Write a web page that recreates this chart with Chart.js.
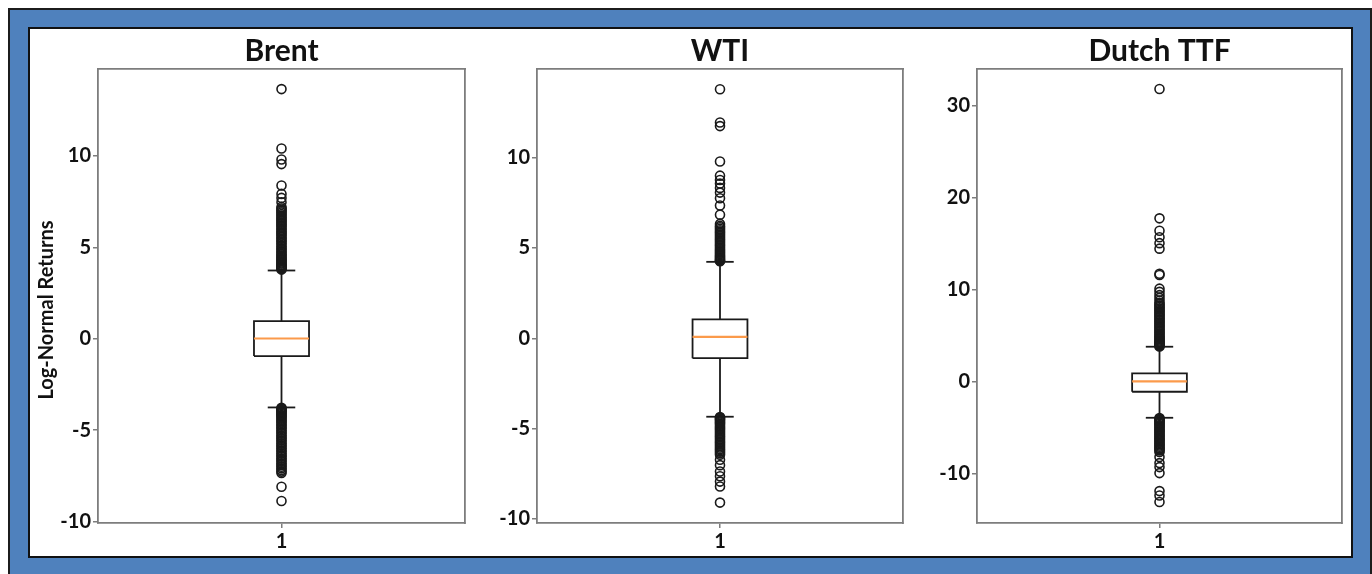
<!DOCTYPE html>
<html>
<head>
	<meta charset="utf-8">
	<title>Log-Normal Returns</title>
	<style>
		body { margin: 0; background: #fff; width: 1372px; height: 574px; overflow: hidden; position: relative; }
		.frame { position: absolute; left: 8px; top: 8px; width: 1364px; height: 600px; box-sizing: border-box; background: #4f81bd; border: 2px solid #1c1c1c; }
		.inner { position: absolute; left: 28px; top: 27px; width: 1325px; height: 531px; box-sizing: border-box; background: #fff; border: 2px solid #111; }
		canvas { position: absolute; top: 29px; }
	</style>
</head>
<body>
	<div class="frame"></div>
	<div class="inner"></div>
	<canvas id="brentChart" width="450" height="528" style="left:30px"></canvas>
	<canvas id="wtiChart" width="440" height="528" style="left:480px"></canvas>
	<canvas id="ttfChart" width="430" height="528" style="left:920px"></canvas>

	<script src="https://cdn.jsdelivr.net/npm/chart.js@4.4.0/dist/chart.umd.min.js"></script>
	<script type="text/javascript">
		const titles = ['Brent', 'WTI', 'Dutch TTF'];
		const yAxisLabel = 'Log-Normal Returns';
		const xTicks = [1];

		// [lower whisker, Q1, median, Q3, upper whisker]
		const brentStats = [-3.76, -0.95, 0.01, 0.96, 3.73];
		const wtiStats = [-4.34, -1.1, 0.08, 1.05, 4.23];
		const ttfStats = [-3.95, -1.12, 0.0, 0.88, 3.78];

		const brentOutliers = [
			13.65, 10.4, 9.8, 9.55, 8.38, 7.92, 7.7, 7.46,
			7.2, 7.12, 7.05, 6.97, 6.9, 6.82, 6.74, 6.66, 6.58, 6.5, 6.43, 6.35, 6.27, 6.2, 6.12, 6.04,
			5.96, 5.88, 5.8, 5.72, 5.64, 5.55, 5.47, 5.38, 5.3, 5.22, 5.12, 5.03, 4.95, 4.86, 4.78, 4.7,
			4.62, 4.55, 4.48, 4.41, 4.35, 4.29, 4.23, 4.17, 4.11, 4.05, 4.0, 3.95, 3.9, 3.86, 3.82, 3.78,
			-3.78, -3.82, -3.86, -3.9, -3.95, -4.0, -4.05, -4.11, -4.17, -4.23, -4.3, -4.37, -4.44, -4.52,
			-4.6, -4.68, -4.76, -4.84, -4.93, -5.02, -5.1, -5.2, -5.3, -5.38, -5.47, -5.56, -5.65, -5.74,
			-5.83, -5.92, -6.01, -6.1, -6.19, -6.28, -6.37, -6.46, -6.55, -6.64, -6.73, -6.82, -6.91, -7.0,
			-7.09, -7.18, -7.27, -7.34, -8.1, -8.88
		];
		const wtiOutliers = [
			13.78, 11.94, 11.74, 9.78, 9.0, 8.76, 8.56, 8.32, 8.06, 7.75, 7.35, 6.84, 6.33,
			6.22, 6.14, 6.06, 5.98, 5.9, 5.82, 5.74, 5.66, 5.58, 5.5, 5.42, 5.34, 5.26, 5.18, 5.1, 5.02,
			4.94, 4.87, 4.8, 4.73, 4.66, 4.6, 4.54, 4.48, 4.43, 4.38, 4.33, 4.29, 4.26,
			-4.36, -4.4, -4.44, -4.49, -4.54, -4.6, -4.66, -4.72, -4.79, -4.86, -4.93, -5.0, -5.08, -5.16,
			-5.24, -5.32, -5.4, -5.48, -5.56, -5.64, -5.72, -5.8, -5.88, -5.96, -6.04, -6.12, -6.2, -6.28,
			-6.36, -6.44, -6.72, -7.02, -7.37, -7.63, -7.93, -8.2, -9.09
		];
		const ttfOutliers = [
			31.82, 17.75, 16.4, 15.7, 15.05, 14.45, 11.72, 11.58, 10.1, 9.75, 9.4, 9.1, 8.8,
			8.55, 8.4, 8.25, 8.1, 7.95, 7.8, 7.65, 7.5, 7.35, 7.2, 7.05, 6.9, 6.75, 6.6, 6.45, 6.3, 6.15,
			6.0, 5.85, 5.7, 5.55, 5.4, 5.25, 5.1, 4.96, 4.83, 4.7, 4.58, 4.46, 4.35, 4.24, 4.14, 4.04,
			3.95, 3.87, 3.8,
			-3.98, -4.06, -4.15, -4.25, -4.36, -4.48, -4.6, -4.73, -4.86, -5.0, -5.14, -5.28, -5.42, -5.56,
			-5.7, -5.84, -5.98, -6.12, -6.26, -6.4, -6.54, -6.68, -6.82, -6.96, -7.1, -7.24, -7.38, -7.5,
			-7.68, -8.23, -8.88, -9.32, -9.97, -11.93, -12.4, -13.12
		];

		const brentTicks = [-10, -5, 0, 5, 10];
		const wtiTicks = [-10, -5, 0, 5, 10];
		const ttfTicks = [-10, 0, 10, 20, 30];

		const brentRange = [-10.08, 14.75];
		const wtiRange = [-10.22, 14.9];
		const ttfRange = [-15.4, 34.0];

		const BOX_HALF = 0.075;
		const CAP_HALF = 0.0375;
		const spineColor = '#7d7d7d';
		const tickFont = { family: 'Lato', size: 20, weight: 'bold' };

		// rotated y label, sits a bit below the axes centre like the original
		const yLabelPlugin = {
			id: 'yLabel',
			afterDraw(chart, args, opts) {
				if (!opts.text) return;
				const { ctx, chartArea } = chart;
				ctx.save();
				ctx.translate(chartArea.left - 51, (chartArea.top + chartArea.bottom) / 2 + 14);
				ctx.rotate(-Math.PI / 2);
				ctx.font = 'bold 20px Lato';
				ctx.fillStyle = '#111';
				ctx.textAlign = 'center';
				ctx.textBaseline = 'middle';
				ctx.fillText(opts.text, 0, 0);
				ctx.restore();
			}
		};

		function lineSet(points, color, width) {
			return {
				data: points,
				showLine: true,
				borderColor: color,
				borderWidth: width,
				borderJoinStyle: 'miter',
				pointRadius: 0,
				fill: false,
				tension: 0
			};
		}

		function makeChart(id, title, stats, outliers, ticks, range, yWidth, padRight, yLabel) {
			const [lo, q1, med, q3, hi] = stats;
			const ctx = document.getElementById(id).getContext('2d');
			const dark = '#1a1a1a';
			return new Chart(ctx, {
				type: 'scatter',
				data: {
					datasets: [
						{
							data: outliers.map(v => ({ x: 1, y: v })),
							pointRadius: 4.5,
							pointBorderWidth: 1.6,
							pointBorderColor: dark,
							pointBackgroundColor: 'rgba(0,0,0,0)',
							showLine: false
						},
						lineSet([{ x: 1 - BOX_HALF, y: med }, { x: 1 + BOX_HALF, y: med }], '#fb9a4b', 2.2),
						lineSet([{ x: 1 - BOX_HALF, y: q1 }, { x: 1 + BOX_HALF, y: q1 }, { x: 1 + BOX_HALF, y: q3 },
							{ x: 1 - BOX_HALF, y: q3 }, { x: 1 - BOX_HALF, y: q1 }], dark, 1.8),
						lineSet([{ x: 1, y: q3 }, { x: 1, y: hi }], dark, 1.8),
						lineSet([{ x: 1, y: q1 }, { x: 1, y: lo }], dark, 1.8),
						lineSet([{ x: 1 - CAP_HALF, y: hi }, { x: 1 + CAP_HALF, y: hi }], dark, 1.8),
						lineSet([{ x: 1 - CAP_HALF, y: lo }, { x: 1 + CAP_HALF, y: lo }], dark, 1.8)
					]
				},
				options: {
					responsive: false,
					animation: false,
					events: [],
					layout: { padding: { top: 0, right: padRight, bottom: 0, left: 0 } },
					plugins: {
						legend: { display: false },
						tooltip: { enabled: false },
						title: {
							display: true,
							fullSize: false,
							text: title,
							color: '#111',
							font: { family: 'Lato', size: 30, weight: 'bold' },
							padding: { top: 4, bottom: 0 }
						},
						yLabel: { text: yLabel }
					},
					scales: {
						x: {
							type: 'linear',
							min: 0.5,
							max: 1.5,
							afterBuildTicks: s => { s.ticks = xTicks.map(v => ({ value: v })); },
							afterFit: s => { s.height = 34; },
							ticks: { font: tickFont, color: '#111', padding: 2, callback: v => String(v) },
							grid: { display: true, drawOnChartArea: false, drawTicks: true, tickLength: 5, color: spineColor, lineWidth: 1.5 },
							border: { display: true, color: spineColor, width: 1.8 }
						},
						y: {
							type: 'linear',
							min: range[0],
							max: range[1],
							afterBuildTicks: s => { s.ticks = ticks.map(v => ({ value: v })); },
							afterFit: s => { s.width = yWidth; },
							ticks: { font: tickFont, color: '#111', padding: 2, callback: v => String(v) },
							grid: { display: true, drawOnChartArea: false, drawTicks: true, tickLength: 5, color: spineColor, lineWidth: 1.5 },
							border: { display: true, color: spineColor, width: 1.8 }
						},
						x2: {
							type: 'linear', position: 'top', display: true,
							ticks: { display: false }, grid: { display: false, drawTicks: false },
							border: { display: true, color: spineColor, width: 1.8 }
						},
						y2: {
							type: 'linear', position: 'right', display: true,
							ticks: { display: false }, grid: { display: false, drawTicks: false },
							border: { display: true, color: spineColor, width: 1.8 }
						}
					}
				},
				plugins: [yLabelPlugin]
			});
		}

		makeChart('brentChart', titles[0], brentStats, brentOutliers, brentTicks, brentRange, 68, 15, yAxisLabel);
		makeChart('wtiChart', titles[1], wtiStats, wtiOutliers, wtiTicks, wtiRange, 57, 17, '');
		makeChart('ttfChart', titles[2], ttfStats, ttfOutliers, ttfTicks, ttfRange, 57, 8, '');
	</script>
</body>
</html>
